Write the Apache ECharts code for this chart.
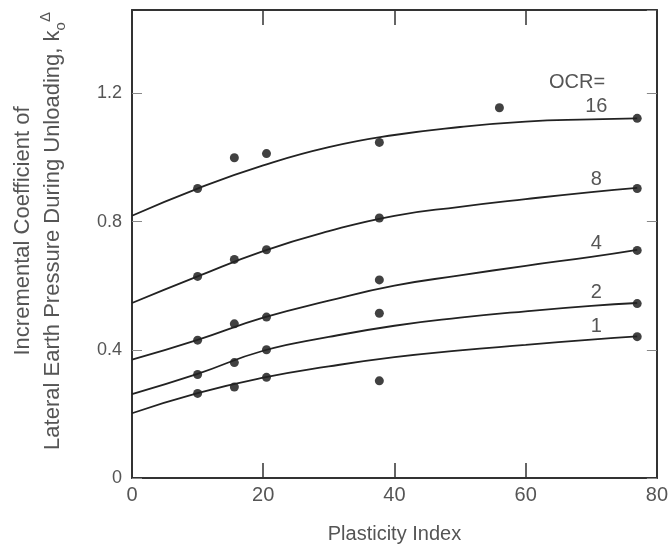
<!DOCTYPE html>
<html>
<head>
<meta charset="utf-8">
<script src="https://cdn.jsdelivr.net/npm/echarts@6/dist/echarts.min.js"></script>
<style>
  html, body { margin: 0; padding: 0; background: #ffffff; }
  #chart { width: 671px; height: 549px; }
</style>
</head>
<body>
<div id="chart"></div>
<script>
// ---- data ----
var ocrLevels = ['16', '8', '4', '2', '1'];

// measured plasticity index of the test soils
var pointPI = [10, 15.6, 20.5, 37.7, 56, 77];
var points16 = [0.903, 0.999, 1.012, 1.047, 1.155, 1.122];
var points8  = [0.629, 0.682, 0.712, 0.811, null, 0.903];
var points4  = [0.430, 0.481, 0.502, 0.618, null, 0.710];
var points2  = [0.323, 0.360, 0.400, 0.514, null, 0.544];
var points1  = [0.264, 0.284, 0.314, 0.303, null, 0.441];

// fitted curves
var curvePI = [0, 10, 20, 30, 40, 50, 60, 70, 77];
var curve16 = [0.818, 0.903, 0.975, 1.032, 1.070, 1.095, 1.112, 1.119, 1.122];
var curve8  = [0.546, 0.629, 0.708, 0.770, 0.818, 0.846, 0.870, 0.892, 0.905];
var curve4  = [0.369, 0.431, 0.500, 0.553, 0.600, 0.632, 0.662, 0.690, 0.712];
var curve2  = [0.262, 0.325, 0.397, 0.440, 0.475, 0.500, 0.520, 0.537, 0.546];
var curve1  = [0.202, 0.265, 0.313, 0.348, 0.377, 0.398, 0.415, 0.432, 0.442];

var xTicks = [0, 20, 40, 60, 80];
var yTicks = [0, 0.4, 0.8, 1.2];
var labelAtPI = 70;

// ---- build options ----
var FONT = '"Liberation Sans", Arial, sans-serif';
var TXT = '#555555';
var INK = '#222222';

var curves = [curve16, curve8, curve4, curve2, curve1];
var pts = [points16, points8, points4, points2, points1];

var series = [];
curves.forEach(function (c, k) {
  series.push({
    type: 'line',
    name: 'OCR ' + ocrLevels[k],
    smooth: 0.5,
    showSymbol: true,
    symbol: 'circle',
    symbolSize: 0,
    silent: true,
    itemStyle: { color: INK },
    lineStyle: { color: INK, width: 1.8 },
    data: curvePI.map(function (x, i) {
      var d = { value: [x, c[i]] };
      if (x === labelAtPI) {
        d.label = {
          show: true, position: 'top', distance: 3, offset: [5, 0],
          formatter: ocrLevels[k],
          fontFamily: FONT, fontSize: 20, color: TXT
        };
      }
      return d;
    })
  });
});
pts.forEach(function (p, k) {
  var data = [];
  pointPI.forEach(function (x, i) { if (p[i] != null) data.push([x, p[i]]); });
  series.push({
    type: 'scatter',
    name: 'data OCR ' + ocrLevels[k],
    symbol: 'circle',
    symbolSize: 9,
    itemStyle: { color: '#111111' },
    data: data
  });
});

function axisLineStyle() {
  return { show: true, onZero: false, lineStyle: { color: '#333333', width: 2 } };
}

var option = {
  backgroundColor: '#ffffff',
  animation: false,
  grid: { left: 130, right: 11, top: 10, bottom: 71, containLabel: false },
  xAxis: [
    {
      type: 'value', min: 0, max: 80, interval: 20, position: 'bottom',
      axisLine: axisLineStyle(), splitLine: { show: false },
      name: 'Plasticity Index', nameLocation: 'middle', nameGap: 46,
      nameTextStyle: { fontFamily: FONT, fontSize: 20, color: TXT },
      axisTick: { show: true, inside: true, length: 15, lineStyle: { color: '#333', width: 1.5 } },
      axisLabel: { fontFamily: FONT, fontSize: 20, color: TXT, margin: 7,
        formatter: function (v) { return xTicks.indexOf(v) >= 0 ? String(v) : ''; } }
    },
    {
      type: 'value', min: 0, max: 80, interval: 20, position: 'top',
      axisLine: axisLineStyle(), splitLine: { show: false },
      axisTick: { show: true, inside: true, length: 15, lineStyle: { color: '#333', width: 1.5 } },
      axisLabel: { show: false }
    }
  ],
  yAxis: [
    {
      type: 'value', min: 0, max: 1.46, interval: 0.4, position: 'left',
      axisLine: axisLineStyle(), splitLine: { show: false },
      name: 'Incremental Coefficient of\nLateral Earth Pressure During Unloading, k{sub|o}{sup|Δ}',
      nameLocation: 'middle', nameGap: 64,
      nameTextStyle: {
        fontFamily: FONT, fontSize: 22, color: TXT, lineHeight: 30,
        padding: [0, 0, 0, 26],
        rich: {
          sub: { fontFamily: FONT, fontSize: 15, color: TXT, verticalAlign: 'bottom', lineHeight: 30 },
          sup: { fontFamily: FONT, fontSize: 15, color: TXT, verticalAlign: 'top', lineHeight: 30 }
        }
      },
      axisTick: { show: true, inside: true, length: 10, lineStyle: { color: '#888', width: 1 } },
      axisLabel: { fontFamily: FONT, fontSize: 18, color: TXT, margin: 10, showMaxLabel: false,
        formatter: function (v) {
          for (var i = 0; i < yTicks.length; i++) {
            if (Math.abs(yTicks[i] - v) < 1e-6) return v === 0 ? '0' : v.toFixed(1);
          }
          return '';
        } }
    },
    {
      type: 'value', min: 0, max: 1.46, interval: 0.4, position: 'right',
      axisLine: axisLineStyle(), splitLine: { show: false },
      axisTick: { show: true, inside: true, length: 10, lineStyle: { color: '#888', width: 1 } },
      axisLabel: { show: false }
    }
  ],
  graphic: [{
    type: 'text', left: 549, top: 72,
    style: { text: 'OCR=', font: '20px ' + FONT, fill: TXT }
  }],
  series: series
};

var chart = echarts.init(document.getElementById('chart'), null, { renderer: 'canvas' });
chart.setOption(option);
</script>
</body>
</html>
